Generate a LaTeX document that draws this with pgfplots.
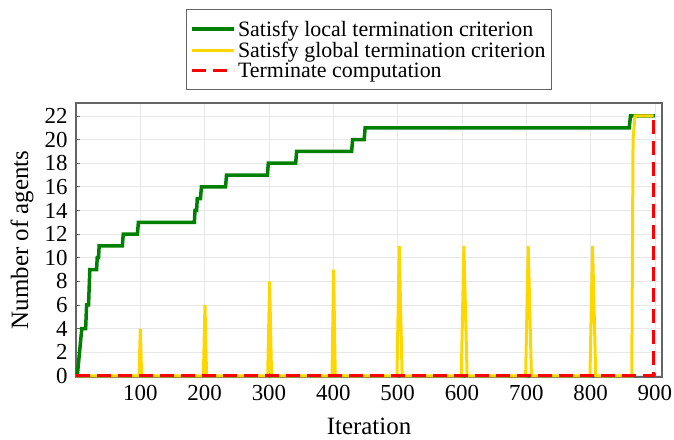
\documentclass[border=0pt]{standalone}
\usepackage{fontspec}
\setmainfont{Liberation Serif}
\usepackage{pgfplots}
\pgfplotsset{compat=1.18}
\definecolor{cgreen}{RGB}{0,128,0}
\definecolor{cyellow}{RGB}{255,215,0}
\definecolor{cred}{RGB}{255,0,0}
\definecolor{axgray}{RGB}{100,100,100}
\definecolor{gridgray}{RGB}{232,232,232}
\begin{document}
\begin{tikzpicture}
\path[use as bounding box] (-76bp,-63bp) rectangle (598bp,377bp);
\begin{axis}[
  scale only axis, width=586bp, height=274bp,
  xmin=0, xmax=911, ymin=-0.1, ymax=23.1,
  xtick={100,200,...,900}, ytick={0,2,...,22},
  grid=major, major grid style={gridgray, line width=0.8bp},
  axis line style={axgray, line width=1.3bp},
  tick style={axgray, line width=0.8bp}, tick align=inside, major tick length=4bp,
  xtick pos=left, ytick pos=left,
  /pgf/number format/assume math mode=true,
  ticklabel style={font=\fontsize{23}{23}\selectfont},
  yticklabel style={xshift=-5bp},
  xticklabel style={yshift=-5bp},
  xlabel={Iteration}, ylabel={Number of agents},
  label style={font=\fontsize{25}{25}\selectfont},
  xlabel style={at={(axis description cs:0.5,0)}, anchor=base, yshift=-57bp},
  ylabel style={at={(axis description cs:-0.0922,0.5)}, anchor=center},
  legend style={at={(axis description cs:0.5,1.047)}, anchor=south, draw=axgray, line width=1.2bp,
    font=\fontsize{22}{22}\selectfont, cells={anchor=west}, inner xsep=4bp, inner ysep=9bp},
  legend image code/.code={\draw[#1] (0bp,0bp) -- (42bp,0bp);},
]
\addplot[cgreen, line width=3.5bp] coordinates {
(2,0) (9,4) (15,4) (16.5,6) (19.5,6) (21.5,9) (32,9) (33,10) (35,10) (36,11)
(72,11) (73.5,12) (95.5,12) (97,13) (184,13) (185,14) (187.5,14) (188.5,15)
(193.5,15) (195,16) (232.5,16) (234,17) (297.5,17) (299,18) (341.5,18) (343,19)
(428.5,19) (430,20) (448,20) (449.5,21) (860,21) (862,22) (900,22)
};
\addlegendentry{Satisfy local termination criterion}
\addplot[cyellow, line width=3bp] coordinates {
(0,0) (98,0) (100,4) (102,0)
(198,0) (200.5,6) (203,0)
(298,0) (301,8) (304,0)
(398,0) (400.5,9) (403,0)
(499,0) (502.5,11) (507,0)
(599,0) (603,11) (608,0)
(699,0) (703,11) (708,0)
(799,0) (803,11) (808,0)
(864,0) (866,20) (869,22) (898,22)
};
\addlegendentry{Satisfy global termination criterion}
\addplot[cred, line width=3bp, dash pattern=on 14bp off 7bp] coordinates {
(0,0) (898,0) (898,22)
};
\addlegendentry{Terminate computation}
\end{axis}
\end{tikzpicture}
\end{document}
